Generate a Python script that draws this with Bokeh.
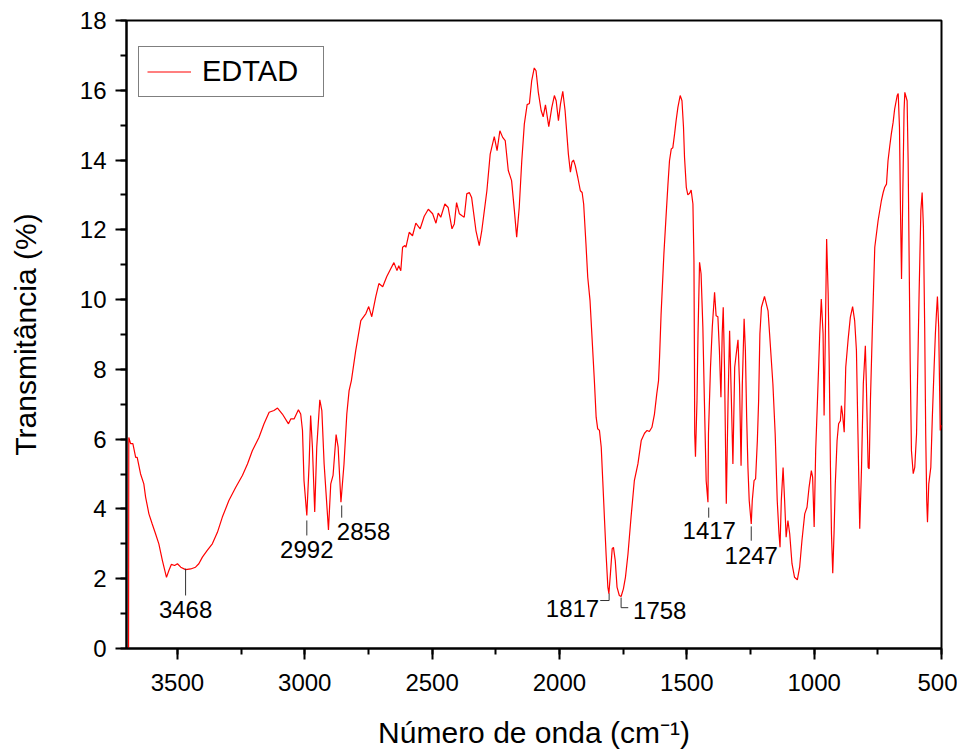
from bokeh.plotting import figure
from bokeh.models import Range1d, SingleIntervalTicker, Label, Legend, LegendItem
from bokeh.embed import file_html
from bokeh.resources import INLINE

# ---- data ----
wavenumber = [
    3692, 3691, 3684, 3675, 3664, 3658, 3645, 3632, 3625, 3612, 3599, 3586, 3573, 3559, 3543,
    3534, 3524, 3511, 3500, 3487, 3468, 3448, 3429, 3416, 3402, 3383, 3363, 3343, 3324, 3298,
    3271, 3245, 3225, 3206, 3180, 3160, 3140, 3121, 3107, 3088, 3064, 3055, 3042, 3025, 3016,
    3009, 3003, 2992, 2983, 2977, 2970, 2961, 2953, 2941, 2933, 2924, 2907, 2898, 2889, 2877,
    2869, 2858, 2846, 2835, 2826, 2817, 2800, 2780, 2760, 2749, 2737, 2721, 2709, 2694, 2678,
    2662, 2650, 2638, 2631, 2623, 2616, 2607, 2603, 2590, 2577, 2564, 2547, 2531, 2515, 2498,
    2485, 2476, 2466, 2450, 2437, 2422, 2413, 2404, 2393, 2384, 2374, 2364, 2354, 2345, 2328,
    2315, 2305, 2295, 2285, 2272, 2256, 2245, 2234, 2223, 2213, 2201, 2188, 2177, 2168, 2158,
    2148, 2138, 2127, 2118, 2109, 2099, 2092, 2083, 2072, 2064, 2055, 2042, 2030, 2020, 2013,
    2004, 1996, 1987, 1978, 1965, 1957, 1951, 1945, 1938, 1928, 1918, 1911, 1905, 1896, 1889,
    1880, 1863, 1856, 1850, 1843, 1836, 1830, 1823, 1817, 1810, 1806, 1800, 1793, 1788, 1781,
    1774, 1765, 1758, 1749, 1741, 1731, 1719, 1706, 1692, 1679, 1666, 1656, 1647, 1637, 1627,
    1618, 1611, 1607, 1601, 1590, 1581, 1574, 1568, 1561, 1555, 1548, 1542, 1535, 1526, 1519,
    1513, 1509, 1502, 1496, 1489, 1483, 1476, 1472, 1470, 1469, 1466, 1460, 1456, 1450, 1444,
    1437, 1431, 1424, 1417, 1415, 1407, 1400, 1391, 1385, 1378, 1372, 1366, 1361, 1357, 1352,
    1345, 1338, 1332, 1325, 1319, 1312, 1306, 1299, 1293, 1287, 1282, 1275, 1270, 1265, 1260,
    1255, 1247, 1243, 1236, 1230, 1223, 1218, 1213, 1207, 1195, 1181, 1175, 1162, 1153, 1145,
    1138, 1134, 1129, 1122, 1116, 1110, 1103, 1096, 1087, 1077, 1066, 1057, 1048, 1037, 1028,
    1020, 1011, 1006, 1000, 994, 987, 978, 972, 965, 961, 956, 951, 945, 941, 936,
    932, 927, 922, 917, 910, 904, 897, 893, 888, 882, 876, 867, 858, 849, 841,
    834, 828, 821, 814, 807, 799, 795, 788, 784, 779, 772, 762, 749, 736, 729,
    723, 716, 710, 703, 697, 690, 684, 674, 670, 665, 661, 657, 652, 647, 644,
    635, 631, 627, 623, 618, 611, 605, 598, 592, 588, 581, 576, 571, 566, 562,
    558, 555, 550, 542, 536, 529, 524, 520, 516, 511, 505, 500,
]
transmittance = [
    -1.0, 6.05, 5.87, 5.87, 5.48, 5.48, 5.01, 4.72, 4.34, 3.86, 3.57, 3.29, 3.00, 2.52, 2.04,
    2.23, 2.41, 2.38, 2.43, 2.33, 2.26, 2.28, 2.33, 2.43, 2.62, 2.81, 3.00, 3.33, 3.76, 4.24,
    4.62, 4.96, 5.29, 5.67, 6.05, 6.44, 6.77, 6.82, 6.89, 6.72, 6.44, 6.58, 6.58, 6.84, 6.72,
    6.25, 4.81, 3.81, 5.29, 6.68, 5.77, 3.91, 5.77, 7.13, 6.82, 5.29, 3.40, 4.72, 4.96, 6.13,
    5.77, 4.19, 5.29, 6.72, 7.39, 7.68, 8.54, 9.40, 9.60, 9.80, 9.51, 10.09, 10.46, 10.37, 10.66,
    10.89, 11.06, 10.83, 10.97, 10.83, 11.50, 11.55, 11.50, 11.93, 11.83, 12.19, 12.03, 12.39, 12.59, 12.46,
    12.19, 12.48, 12.36, 12.74, 12.64, 12.03, 12.17, 12.78, 12.46, 12.41, 12.36, 13.03, 13.07, 12.93, 11.98,
    11.55, 11.98, 12.55, 13.12, 14.17, 14.67, 14.27, 14.84, 14.65, 14.56, 13.70, 13.41, 12.55, 11.79, 12.64,
    13.98, 15.03, 15.59, 15.62, 16.28, 16.64, 16.56, 15.94, 15.42, 15.24, 15.58, 14.96, 15.51, 15.85, 15.70,
    15.13, 15.61, 15.97, 15.42, 14.17, 13.65, 13.94, 14.00, 13.84, 13.50, 13.12, 13.07, 12.74, 11.60, 10.64,
    9.97, 7.68, 6.63, 6.30, 6.25, 5.77, 4.81, 3.67, 2.71, 1.76, 1.57, 2.14, 2.86, 2.90, 2.52,
    1.76, 1.52, 1.49, 1.71, 2.04, 2.71, 3.76, 4.81, 5.29, 5.96, 6.17, 6.25, 6.22, 6.34, 6.72,
    7.30, 7.68, 8.35, 9.59, 11.31, 12.45, 13.31, 13.98, 14.32, 14.35, 14.75, 15.13, 15.51, 15.85, 15.70,
    14.94, 14.08, 13.22, 13.00, 13.05, 13.14, 12.74, 11.12, 8.25, 6.15, 5.50, 7.11, 9.02, 11.07, 10.74,
    9.21, 7.11, 4.81, 4.19, 6.15, 8.06, 9.21, 10.21, 9.54, 9.51, 8.54, 7.20, 9.02, 9.78, 8.06,
    4.15, 7.11, 9.11, 7.11, 5.29, 8.06, 8.44, 8.85, 7.58, 5.24, 7.58, 9.45, 8.54, 6.63, 5.19,
    4.24, 3.57, 4.24, 4.81, 4.86, 5.96, 7.11, 9.02, 9.78, 10.09, 9.68, 9.02, 7.58, 6.15, 4.24,
    3.29, 2.90, 4.24, 5.19, 4.24, 3.19, 3.67, 3.29, 2.43, 2.04, 1.97, 2.33, 3.09, 3.86, 4.05,
    4.62, 5.10, 4.91, 3.48, 5.67, 7.11, 9.02, 10.02, 9.02, 6.68, 9.02, 11.74, 10.16, 8.25, 5.19,
    3.29, 2.16, 3.29, 4.72, 5.96, 6.44, 6.53, 6.96, 6.68, 6.20, 8.06, 8.83, 9.49, 9.80, 9.40,
    8.54, 6.15, 3.43, 5.19, 7.58, 8.68, 7.58, 5.19, 5.15, 7.11, 9.02, 11.50, 12.26, 12.84, 13.07,
    13.22, 13.31, 13.98, 14.41, 14.75, 15.08, 15.46, 15.85, 15.91, 14.94, 12.55, 10.59, 13.03, 15.42, 15.94,
    15.70, 13.98, 11.12, 8.25, 5.67, 5.01, 5.19, 6.15, 8.54, 10.16, 12.55, 13.07, 12.07, 9.21, 6.15,
    4.24, 3.62, 4.72, 5.19, 6.63, 8.06, 9.02, 9.59, 10.09, 9.21, 6.25, 6.40,
]

peak_labels = ["3468", "2992", "2858", "1817", "1758", "1417", "1247"]
x_ticks_interval = 500
y_ticks_interval = 2
series_name = "EDTAD"

FONT = "Liberation Sans"

p = figure(width=957, height=751, output_backend="svg", toolbar_location=None,
           x_range=Range1d(3700, 500), y_range=Range1d(0, 18),
           min_border_left=126, min_border_right=16, min_border_top=20, min_border_bottom=103)
p.background_fill_color = "white"
p.border_fill_color = "white"
p.xgrid.visible = False
p.ygrid.visible = False
p.outline_line_color = "black"
p.outline_line_width = 2

line = p.line(wavenumber, transmittance, line_color="#ff0000", line_width=1.2)

for ax in (p.xaxis[0], p.yaxis[0]):
    ax.axis_line_width = 2
    ax.major_tick_line_width = 2
    ax.minor_tick_line_width = 2
    ax.major_tick_in = 0
    ax.major_tick_out = 11
    ax.minor_tick_in = 0
    ax.minor_tick_out = 6
    ax.major_label_text_font = FONT
    ax.major_label_text_font_size = "24px"
    ax.major_label_text_color = "black"
    ax.axis_label_text_font = FONT
    ax.axis_label_text_font_size = "30px"
    ax.axis_label_text_font_style = "normal"
    ax.axis_label_text_color = "black"

p.xaxis[0].ticker = SingleIntervalTicker(interval=x_ticks_interval, num_minor_ticks=2)
p.yaxis[0].ticker = SingleIntervalTicker(interval=y_ticks_interval, num_minor_ticks=2)
p.xaxis[0].major_label_standoff = 14
p.yaxis[0].major_label_standoff = 9
p.xaxis[0].axis_label = "Número de onda (cm\u207b\u00b9)"
p.yaxis[0].axis_label = "Transmitância (%)"
p.xaxis[0].axis_label_standoff = 22
p.yaxis[0].axis_label_standoff = 35

legend = Legend(items=[LegendItem(label=series_name, renderers=[line])],
                location=(12, 551), margin=0, padding=8, spacing=0,
                glyph_width=44, glyph_height=27, label_height=27, label_width=113,
                label_standoff=11, label_text_font=FONT, label_text_font_size="29px",
                label_text_color="black",
                border_line_color="black", border_line_width=1,
                background_fill_alpha=1.0)
p.add_layout(legend, "center")

# peak annotations: tick marks and connectors
pk = dict(zip(peak_labels, [float(s) for s in peak_labels]))
seg_x0 = [pk["3468"], pk["2992"], 2855, 1840, 1805, pk["1758"], pk["1758"], 1414, pk["1247"]]
seg_y0 = [2.29, 3.67, 4.10, 1.375, 1.375, 1.46, 1.17, 4.04, 3.50]
seg_x1 = [pk["3468"], pk["2992"], 2855, 1805, 1805, pk["1758"], 1730, 1414, pk["1247"]]
seg_y1 = [1.52, 3.24, 3.75, 1.375, 1.58, 1.17, 1.17, 3.75, 3.09]
p.segment(seg_x0, seg_y0, seg_x1, seg_y1, line_color="#333333", line_width=1)

label_specs = [
    ("3468", pk["3468"], 1.12, "center"),
    ("2992", pk["2992"], 2.84, "center"),
    ("2858", 2874, 3.35, "left"),
    ("1817", 1844, 1.15, "right"),
    ("1758", 1711, 1.09, "left"),
    ("1417", 1412, 3.38, "center"),
    ("1247", pk["1247"], 2.66, "center"),
]
for txt, x, y, align in label_specs:
    p.add_layout(Label(x=x, y=y, text=txt, text_align=align, text_baseline="middle",
                       text_font=FONT, text_font_size="24px", text_color="black"))

open("out.html", "w").write(file_html(p, INLINE))
